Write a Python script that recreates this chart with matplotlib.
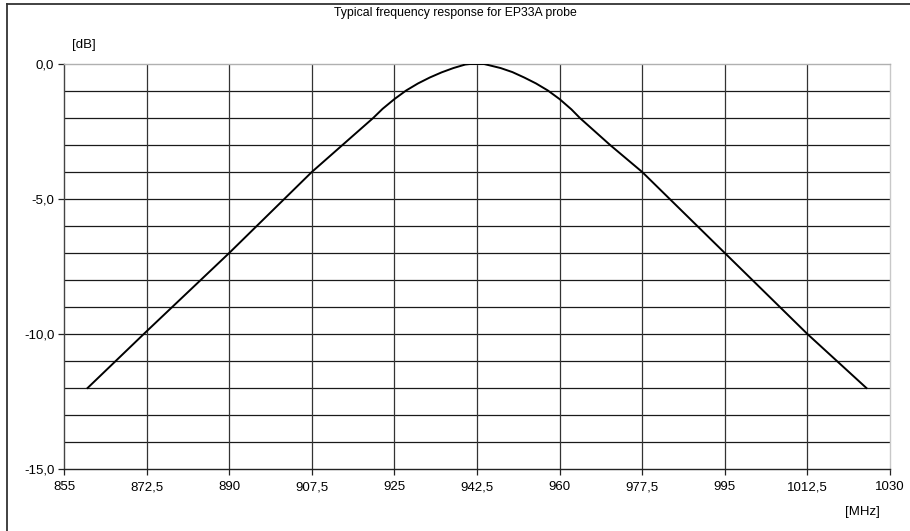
import matplotlib
matplotlib.use('Agg')
import matplotlib.pyplot as plt
from matplotlib.lines import Line2D
import numpy as np

plt.rcParams['font.family'] = ['Liberation Sans', 'DejaVu Sans']

# frequency response
freq_mhz = [860, 872.5, 890, 907.5, 914, 920.5, 922.5, 925, 927.5, 930, 932.5, 935, 937.5,
            940, 941, 944, 947.5, 950, 952.5, 955, 957.5, 960, 962.5, 964.3, 970.7, 977.5,
            995, 1012.5, 1025]
level_db = [-12.0, -9.9, -7.0, -4.0, -3.0, -2.0, -1.66, -1.3, -0.98, -0.72, -0.5, -0.31, -0.15,
            -0.02, 0.0, 0.0, -0.15, -0.3, -0.5, -0.72, -0.98, -1.3, -1.68, -2.0, -3.0, -4.0,
            -7.0, -10.0, -12.0]

x_ticks = [855, 872.5, 890, 907.5, 925, 942.5, 960, 977.5, 995, 1012.5, 1030]
y_ticks = [0, -5, -10, -15]

def comma(v, fmt):
    return (fmt % v).replace('.', ',')

fig = plt.figure(figsize=(9.1, 5.31), dpi=100)
ax = fig.add_axes([64 / 910, 1 - 469 / 531, 826 / 910, 405 / 531])

# grid
for y in np.arange(-14, 0, 1):
    ax.axhline(y, color='#1a1a1a', lw=0.9, zorder=1)
for x in x_ticks[1:-1]:
    ax.axvline(x, color='#333333', lw=0.9, zorder=1)

ax.plot(freq_mhz, level_db, color='black', lw=1.4, zorder=3)

ax.set_xlim(855, 1030)
ax.set_ylim(-15, 0)
ax.set_xticks(x_ticks)
ax.set_xticklabels([('%g' % v).replace('.', ',') for v in x_ticks])
ax.set_yticks(y_ticks)
ax.set_yticklabels([comma(v, '%.1f') for v in y_ticks])
ax.tick_params(axis='both', labelsize=9.5, length=4, width=0.9, color='#222222', pad=3)
ax.tick_params(axis='x', pad=5)

ax.spines['left'].set_color('#444444')
ax.spines['bottom'].set_color('#222222')
ax.spines['top'].set_color('#b0b0b0')
ax.spines['right'].set_color('#c8c8c8')
for s in ax.spines.values():
    s.set_linewidth(1.0)

fig.text(455 / 910, 1 - 13 / 531, 'Typical frequency response for EP33A probe',
         ha='center', va='center', fontsize=8.8)
fig.text(84 / 910, 1 - 45 / 531, '[dB]', ha='center', va='center', fontsize=9.5)
fig.text(862 / 910, 1 - 512 / 531, '[MHz]', ha='center', va='center', fontsize=9.5)

# outer frame (left and top edges)
fig.add_artist(Line2D([7 / 910, 7 / 910], [0, 1 - 4 / 531], transform=fig.transFigure,
                      color='#333333', lw=1.3))
fig.add_artist(Line2D([7 / 910, 1], [1 - 4 / 531, 1 - 4 / 531], transform=fig.transFigure,
                      color='#333333', lw=1.3))

fig.savefig('out.png', dpi=100)
